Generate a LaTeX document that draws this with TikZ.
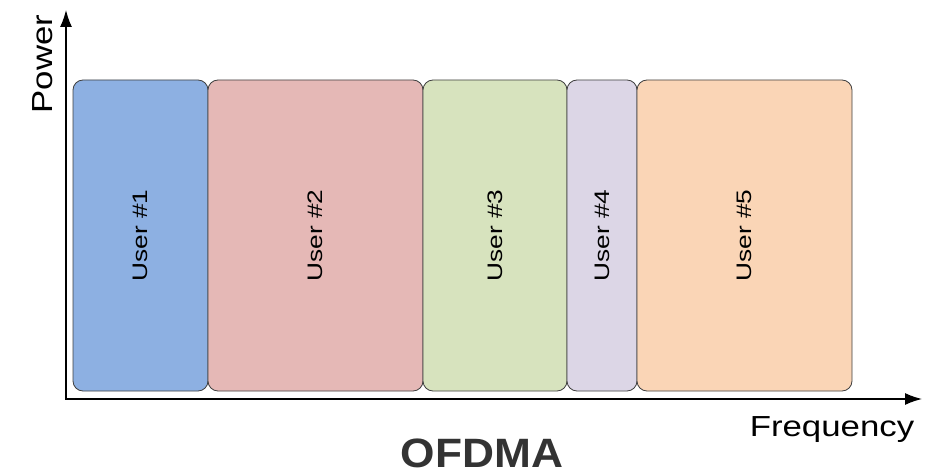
\documentclass[tikz,border=0pt]{standalone}
\usepackage{fontspec}
\setmainfont{Liberation Sans}
\usetikzlibrary{positioning,arrows.meta}

\definecolor{userblue}{HTML}{8DB0E2}
\definecolor{userred}{HTML}{E5B8B6}
\definecolor{usergreen}{HTML}{D7E3BE}
\definecolor{userlilac}{HTML}{DCD6E6}
\definecolor{userpeach}{HTML}{FAD5B6}

\newcommand{\userlabel}[1]{\rotatebox{90}{\scalebox{1.25}[1]{#1}}}

\begin{document}
\begin{tikzpicture}[x=1pt,y=-1pt,
    user/.style={rectangle,draw=black!75,line width=0.8pt,rounded corners=10pt,
		minimum width=#1,minimum height=311pt,inner sep=0pt,outer sep=0pt,
		font=\fontsize{21}{23}\selectfont},
    axis/.style={line width=1.4pt,{Latex[length=17pt,width=12pt]}-{Latex[length=17pt,width=12pt]}},
% Axis label style
    axislabel/.style={inner sep=0pt,font=\fontsize{29}{31}\selectfont}
    ]
\useasboundingbox (0,0) rectangle (946,476);

% axes
\coordinate (origin) at (66,399);
\coordinate (ytip) at (66,10);
\coordinate (xtip) at (922,399);
\draw [axis] (ytip) -- (origin) -- (xtip);

\node [axislabel,rotate=90] (power) at (43,64) {\scalebox{1.2}[1]{Power}};
\node [axislabel,anchor=base] (frequency) at (832,436) {\scalebox{1.2}[1]{Frequency}};

% one box per user
\node [user=135pt,fill=userblue,anchor=north west] (user1) at (73,80) {\userlabel{User \#1}};
\node [user=215pt,fill=userred,right=0pt of user1] (user2) {\userlabel{User \#2}};
\node [user=144pt,fill=usergreen,right=0pt of user2] (user3) {\userlabel{User \#3}};
\node [user=70pt,fill=userlilac,right=0pt of user3] (user4) {\userlabel{User \#4}};
\node [user=215pt,fill=userpeach,right=0pt of user4] (user5) {\userlabel{User \#5}};

\node [inner sep=0pt,anchor=base,text=black!80,
	font=\bfseries\fontsize{41}{43}\selectfont] (title) at (482,467) {\scalebox{1.08}[1]{OFDMA}};
\end{tikzpicture}
\end{document}
